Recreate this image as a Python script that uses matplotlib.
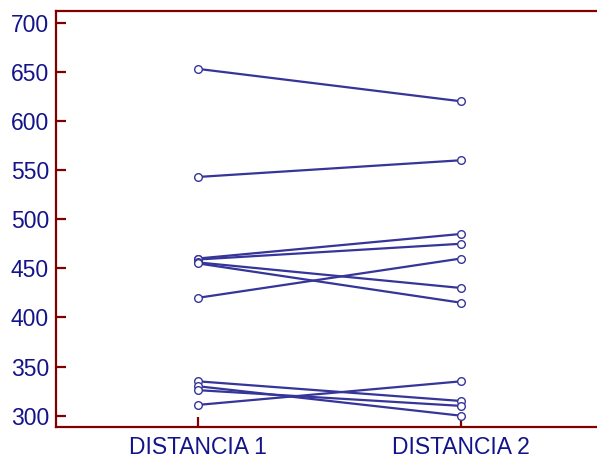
import matplotlib.pyplot as plt

plt.rcParams['font.family'] = ['Liberation Sans', 'DejaVu Sans']

categories = ['DISTANCIA 1', 'DISTANCIA 2']
distancia_1 = [653, 543, 460, 459, 456, 455, 420, 335, 330, 326, 311]
distancia_2 = [620, 560, 485, 475, 430, 415, 460, 315, 300, 310, 335]
y_ticks = [300, 350, 400, 450, 500, 550, 600, 650, 700]

line_col = '#35359a'
text_col = '#14148a'
axis_col = '#800000'

fig = plt.figure(figsize=(5.97, 4.58), dpi=100)
ax = fig.add_axes([0.0938, 0.0683, 0.9062, 0.9066])

x = [1, 2]
for a, b in zip(distancia_1, distancia_2):
    ax.plot(x, [a, b], color=line_col, lw=1.6, marker='o', ms=5.5,
            mfc='white', mec=line_col, mew=1.0, zorder=3)

ax.set_xlim(0.46, 2.517)
ax.set_ylim(288.8, 711.4)
ax.set_xticks(x)
ax.set_xticklabels(categories)
ax.set_yticks(y_ticks)

ax.spines['right'].set_visible(False)
for s in ['left', 'top', 'bottom']:
    ax.spines[s].set_color(axis_col)
    ax.spines[s].set_linewidth(1.6)

ax.tick_params(axis='both', direction='in', length=7.5, width=1.6,
               color=axis_col, labelcolor=text_col, labelsize=16.5)
ax.tick_params(axis='y', pad=5)
ax.tick_params(axis='x', pad=7)

fig.savefig('out.png', dpi=100)
